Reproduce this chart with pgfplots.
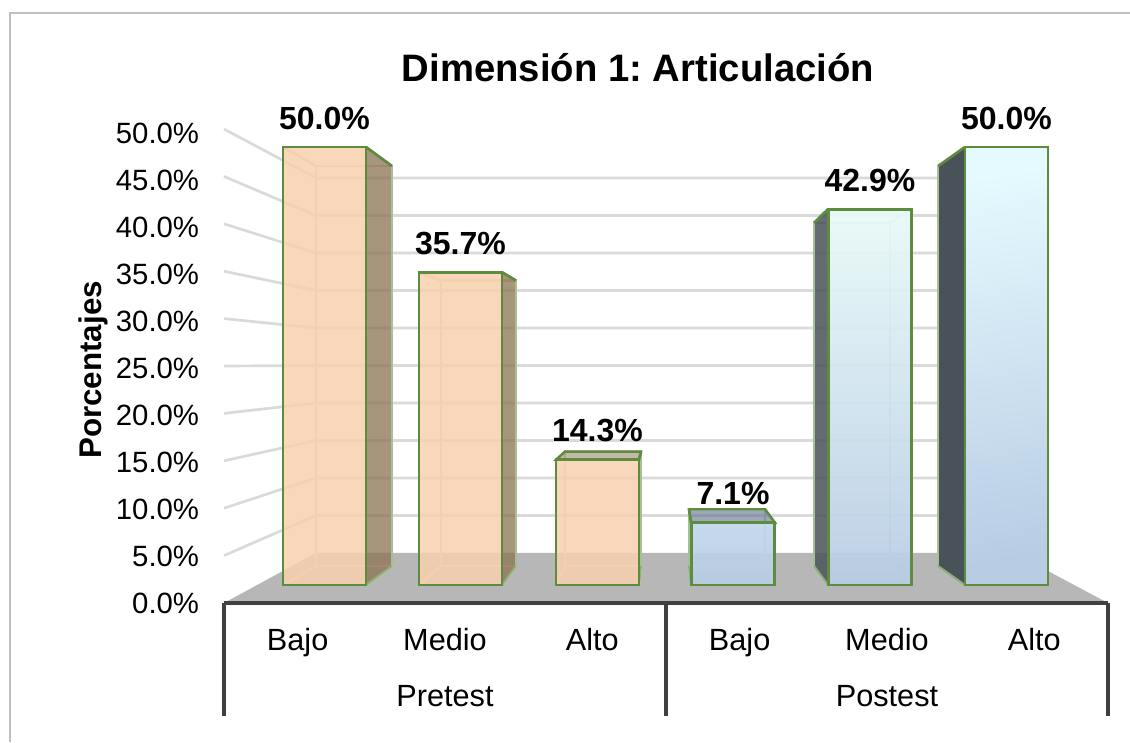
\documentclass[border=0pt]{standalone}
\usepackage{fontspec}
\setmainfont{Liberation Sans}
\frenchspacing
\usepackage{pgfplots}
\pgfplotsset{compat=1.18}
\definecolor{gridc}{HTML}{DADADA}
\definecolor{floorc}{HTML}{B7B7B7}
\definecolor{edgeg}{HTML}{5E8C3E}
\definecolor{peach}{HTML}{F8D0AF}
\definecolor{peachline}{HTML}{E4CFAE}
\definecolor{brownside}{HTML}{8B7254}
\definecolor{blueline}{HTML}{B4CCD2}
\definecolor{slate}{HTML}{4A5259}
\definecolor{topblue}{HTML}{5B6F8A}
\definecolor{axisc}{HTML}{404040}
\definecolor{framec}{HTML}{BFBFBF}
\definecolor{bajotop}{HTML}{C3D7EC}
\definecolor{blubot}{HTML}{B8CCE4}
\definecolor{medtop}{HTML}{E8FAF8}
\definecolor{medmid}{HTML}{D2E6F5}
\definecolor{alttop}{HTML}{E5FAFE}
\definecolor{altmid}{HTML}{CDE3FA}
% #1 xL, #2 xR, #3 back xL, #4 back xR, #5 back top value, #6 value
\newcommand{\backbox}[7]{%
  \addplot[#7,line width=1.8pt] coordinates {(#3,2.17)(#4,2.17)(#4,#5)(#3,#5)} --cycle;
  \addplot[#7,line width=1.8pt] coordinates {(#1,#6)(#3,#5)};
  \addplot[#7,line width=1.8pt] coordinates {(#2,#6)(#4,#5)};
  \addplot[#7,line width=1.8pt] coordinates {(#1,0)(#3,2.17)};
  \addplot[#7,line width=1.8pt] coordinates {(#2,0)(#4,2.17)};
}
% #1 front x, #2 back x, #3 back top, #4 value, #5 fill, #6 opacity
\newcommand{\sideface}[6]{%
  \addplot[draw=none,fill=#5,fill opacity=#6] coordinates {(#1,0)(#2,2.17)(#2,#3)(#1,#4)} --cycle;
  \addplot[draw=edgeg!55!white,line width=1.5pt] coordinates {(#2,2.17)(#2,#3)};
  \addplot[draw=edgeg,line width=2pt] coordinates {(#2,#3)(#1,#4)};
  \addplot[draw=edgeg!70!white,line width=1.5pt] coordinates {(#2,2.17)(#1,0)};
}
\pgfplotsset{
  valuebar/.style={ybar,bar width=83,bar shift=0pt,draw=edgeg,line width=2.1pt,
    nodes near coords={\pgfmathprintnumber[fixed,fixed zerofill,precision=1,assume math mode=true]{\pgfplotspointmeta}\%},
    every node near coord/.style={anchor=center,yshift=21.75pt,inner sep=0pt,
      font=\fontsize{24pt}{26pt}\selectfont\bfseries,text=black,text opacity=1}},
}
\begin{document}
\begin{tikzpicture}
\path[use as bounding box,fill=white] (0,0) rectangle (847.5pt,556.5pt);
\draw[framec,line width=1.6pt] (7.5pt,0) -- (7.5pt,546.75pt) -- (847.5pt,546.75pt);
\begin{axis}[
  at={(0pt,0pt)},anchor=south west,scale only axis,width=847.5pt,height=556.5pt,
  xmin=0,xmax=1130,ymin=-17.9224,ymax=66.7808,hide axis,no markers,clip=true]
% back wall and side wall gridlines
\addplot[gridc,line width=2pt] coordinates {(224,3.356)(316,7.934)(1014,7.934)};
\addplot[gridc,line width=2pt] coordinates {(224,8.767)(316,12.215)(1014,12.215)};
\addplot[gridc,line width=2pt] coordinates {(224,14.178)(316,16.496)(1014,16.496)};
\addplot[gridc,line width=2pt] coordinates {(224,19.589)(316,20.777)(1014,20.777)};
\addplot[gridc,line width=2pt] coordinates {(224,25.0)(316,25.057)(1014,25.057)};
\addplot[gridc,line width=2pt] coordinates {(224,30.41)(316,29.338)(1014,29.338)};
\addplot[gridc,line width=2pt] coordinates {(224,35.82)(316,33.619)(1014,33.619)};
\addplot[gridc,line width=2pt] coordinates {(224,41.23)(316,37.9)(1014,37.9)};
\addplot[gridc,line width=2pt] coordinates {(224,46.64)(316,42.18)(1014,42.18)};
\addplot[gridc,line width=2pt] coordinates {(224,52.05)(316,46.46)(1014,46.46)};
% floor
\addplot[draw=none,fill=floorc] coordinates {(224,-2.055)(1108,-2.055)(1014,3.653)(316,3.653)} --cycle;
% Pretest Bajo
\backbox{283}{366}{316}{392}{47.82}{50}{peachline}
\sideface{366}{392}{47.82}{50}{brownside}{0.75}
\addplot[valuebar,fill=peach,fill opacity=0.85] coordinates {(324.5,50.0)};
% Pretest Medio
\backbox{419}{502}{441}{516}{34.76}{35.7}{peachline}
\sideface{502}{516}{34.76}{35.7}{brownside}{0.75}
\addplot[valuebar,fill=peach,fill opacity=0.85] coordinates {(460.5,35.7)};
% Pretest Alto
\backbox{556}{639}{565}{641}{15.23}{14.3}{peachline}
\addplot[draw=edgeg,line width=1.8pt,fill=brownside,fill opacity=0.5] coordinates {(556,14.3)(639,14.3)(641,15.23)(565,15.23)} --cycle;
\sideface{639}{641}{15.23}{14.3}{brownside}{0.75}
\addplot[valuebar,fill=peach,fill opacity=0.85] coordinates {(597.5,14.3)};
% Postest Bajo
\backbox{691}{775}{689}{765}{8.65}{7.1}{blueline}
\addplot[draw=edgeg,line width=1.8pt,fill=topblue,fill opacity=0.6] coordinates {(691,7.1)(775,7.1)(765,8.65)(689,8.65)} --cycle;
\sideface{691}{689}{8.65}{7.1}{slate}{0.8}
\addplot[valuebar,top color=bajotop,bottom color=blubot,fill opacity=0.92] coordinates {(733,7.1)};
% Postest Medio
\backbox{828}{912}{814}{890}{41.34}{42.9}{blueline}
\sideface{828}{814}{41.34}{42.9}{slate}{0.85}
\addplot[valuebar,top color=medtop,middle color=medmid,bottom color=blubot,fill opacity=0.92] coordinates {(870,42.9)};
% Postest Alto
\sideface{965}{938}{47.82}{50}{slate}{1}
\addplot[valuebar,top color=alttop,middle color=altmid,bottom color=blubot,shading angle=10] coordinates {(1006.5,50.0)};
\end{axis}
\begin{axis}[
  at={(168pt,104.25pt)},anchor=south west,scale only axis,width=663pt,height=352.5pt,
  xmin=0,xmax=6,ymin=0,ymax=50,clip=false,
  axis x line*=bottom,axis y line*=left,
  x axis line style={-,draw=axisc,line width=3.2pt},
  y axis line style={draw=none},
  ytick={0,5,...,50},
  yticklabel={\pgfmathprintnumber[fixed,fixed zerofill,precision=1,assume math mode=true]{\tick}\%},
  yticklabel style={anchor=east,inner sep=0pt,xshift=-18.5pt,font=\fontsize{22pt}{25pt}\selectfont},
  ytick style={draw=none},
  xtick={0.5,1.5,2.5,3.5,4.5,5.5},
  xticklabels={Bajo,Medio,Alto,Bajo,Medio,Alto},
  xticklabel style={anchor=base,inner sep=0pt,yshift=-35.25pt,font=\fontsize{23pt}{25pt}\selectfont},
  x tick style={draw=none},
  title={Dimensión 1: Articulación},
  every axis title/.style={at={(rel axis cs:0.4683,1.138)},anchor=center,inner sep=0pt,
    font=\fontsize{28.7pt}{32pt}\selectfont\bfseries},
  ylabel={Porcentajes},
  every axis y label/.style={at={(rel axis cs:-0.1477,0.496)},rotate=90,anchor=center,inner sep=0pt,
    font=\fontsize{23.5pt}{26pt}\selectfont\bfseries},
]
\addplot[axisc,line width=3.2pt] coordinates {(0,0)(0,-12.02)};
\addplot[axisc,line width=3.2pt] coordinates {(3,0)(3,-12.02)};
\addplot[axisc,line width=3.2pt] coordinates {(6,0)(6,-12.02)};
\node[font=\fontsize{23pt}{25pt}\selectfont,inner sep=0pt,anchor=base] at (axis cs:1.5,-11.03) {Pretest};
\node[font=\fontsize{23pt}{25pt}\selectfont,inner sep=0pt,anchor=base] at (axis cs:4.5,-11.03) {Postest};
\end{axis}
\end{tikzpicture}
\end{document}
